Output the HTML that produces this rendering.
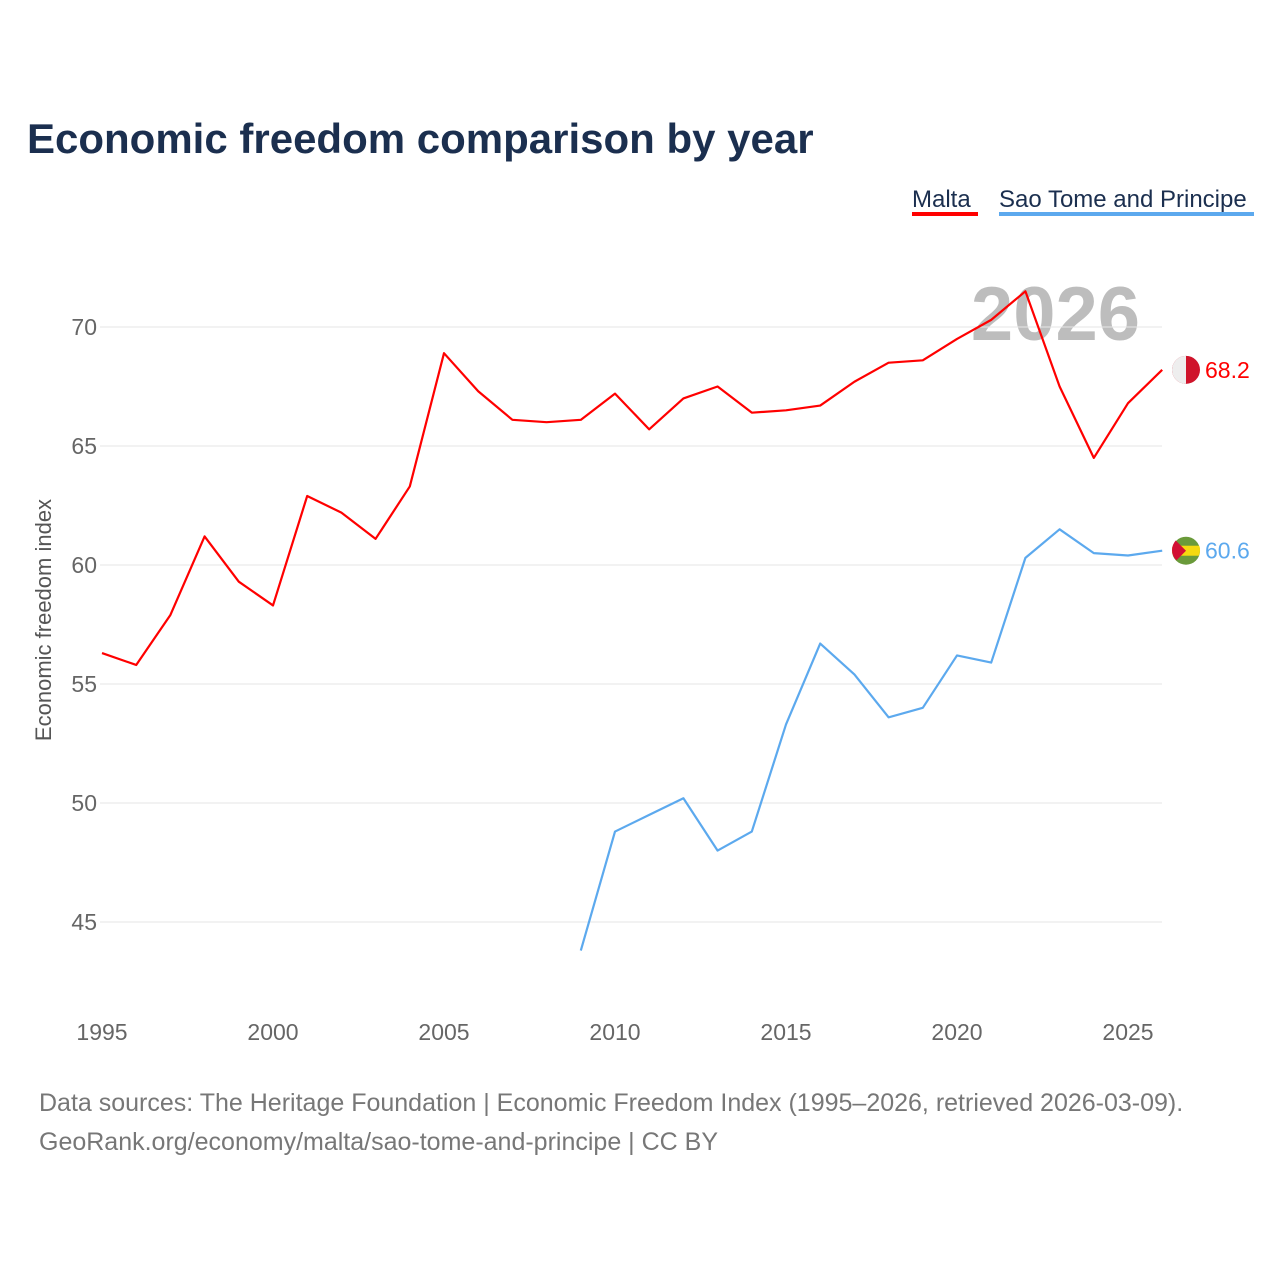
<!DOCTYPE html>
<html><head><meta charset="utf-8"><style>
body{margin:0;background:#fff;font-family:"Liberation Sans",sans-serif;}
svg text{font-family:"Liberation Sans",sans-serif;}
</style></head><body>
<svg id="chart" width="1280" height="1280" xmlns="http://www.w3.org/2000/svg">
<defs><clipPath id="stpclip"><circle cx="1186" cy="550.08" r="14"/></clipPath></defs>
<text x="27" y="153" font-size="42" font-weight="bold" fill="#1b2f4f">Economic freedom comparison by year</text>
<g>
<text x="912" y="207" font-size="24" fill="#1b2f4f">Malta</text>
<rect x="912" y="212" width="66" height="4" fill="#ff0000"/>
<text x="999" y="207" font-size="24" fill="#1b2f4f">Sao Tome and Principe</text>
<rect x="999" y="212" width="255" height="4" fill="#5ca9ee"/>
</g>
<text x="1140" y="340" font-size="76" font-weight="bold" fill="#bdbdbd" text-anchor="end">2026</text>
<g id="grid"></g><g id="axes"></g><g id="series"></g><g id="flags" clip-path="url(#stpclip)"></g>
<text transform="translate(51,620) rotate(-90)" font-size="22" fill="#555" text-anchor="middle">Economic freedom index</text>
<text x="39" y="1111" font-size="25" fill="#777">Data sources: The Heritage Foundation | Economic Freedom Index (1995–2026, retrieved 2026-03-09).</text>
<text x="39" y="1150" font-size="25" fill="#777">GeoRank.org/economy/malta/sao-tome-and-principe | CC BY</text>
</svg>
<script>
const years=[1995,1996,1997,1998,1999,2000,2001,2002,2003,2004,2005,2006,2007,2008,2009,2010,2011,2012,2013,2014,2015,2016,2017,2018,2019,2020,2021,2022,2023,2024,2025,2026];
const malta=[56.3,55.8,57.9,61.2,59.3,58.3,62.9,62.2,61.1,63.3,68.9,67.3,66.1,66.0,66.1,67.2,65.7,67.0,67.5,66.4,66.5,66.7,67.7,68.5,68.6,69.5,70.3,71.5,67.5,64.5,66.8,68.2];
const stp=[null,null,null,null,null,null,null,null,null,null,null,null,null,null,43.8,48.8,49.5,50.2,48.0,48.8,53.3,56.7,55.4,53.6,54.0,56.2,55.9,60.3,61.5,60.5,60.4,60.6];
const yTicks=[45,50,55,60,65,70];
const xTicks=[1995,2000,2005,2010,2015,2020,2025];
const NS="http://www.w3.org/2000/svg";
const xs=y=>102+(y-1995)*34.2;
const ys=v=>327+(70-v)*23.8;
function mk(t,a,p){const e=document.createElementNS(NS,t);for(const k in a)e.setAttribute(k,a[k]);document.getElementById(p).appendChild(e);return e;}
yTicks.forEach(v=>{
 const l=mk('line',{x1:100,x2:1162,y1:ys(v),y2:ys(v),stroke:'#e6e6e6','stroke-width':1},'grid');
 
 
 const t=mk('text',{x:97,y:ys(v)+8,'font-size':23,fill:'#666','text-anchor':'end'},'axes');t.textContent=v;
 
 
});
xTicks.forEach(y=>{
 const t=mk('text',{x:xs(y),y:1040,'font-size':23,fill:'#666','text-anchor':'middle'},'axes');t.textContent=y;
 
 
});
function draw(vals,color,flagColor,name){
 let d='';vals.forEach((v,i)=>{if(v==null)return;d+=(d?'L':'M')+xs(years[i])+','+ys(v);});
 const p=mk('path',{d:d,fill:'none',stroke:color,'stroke-width':2.2,'stroke-linejoin':'round'},'series');
 
 
 const last=vals[vals.length-1];
 const c=mk('circle',{cx:1186,cy:ys(last),r:14,fill:flagColor},'series');
 
 
 const t=mk('text',{x:1205,y:ys(last)+8,'font-size':23,fill:color},'series');t.textContent=last.toFixed(1);
 
 
}
draw(malta,'#ff0000','#cf142b','malta');
draw(stp,'#5ca9ee','#6a9a3a','sao-tome');
const mLast=malta[malta.length-1];
const mf=mk('path',{d:'M1186,'+(ys(mLast)-14)+'a14,14 0 0 0 0,28z',fill:'#eeeeee'},'series');


const sLast=stp[stp.length-1];
const sf=mk('rect',{x:1172,y:ys(sLast)-5,width:28,height:10,fill:'#f5d90f'},'flags');


const st=mk('path',{d:'M1172,'+(ys(sLast)-14)+'L1186,'+ys(sLast)+'L1172,'+(ys(sLast)+14)+'z',fill:'#d21034'},'flags');


</script>
</body></html>
